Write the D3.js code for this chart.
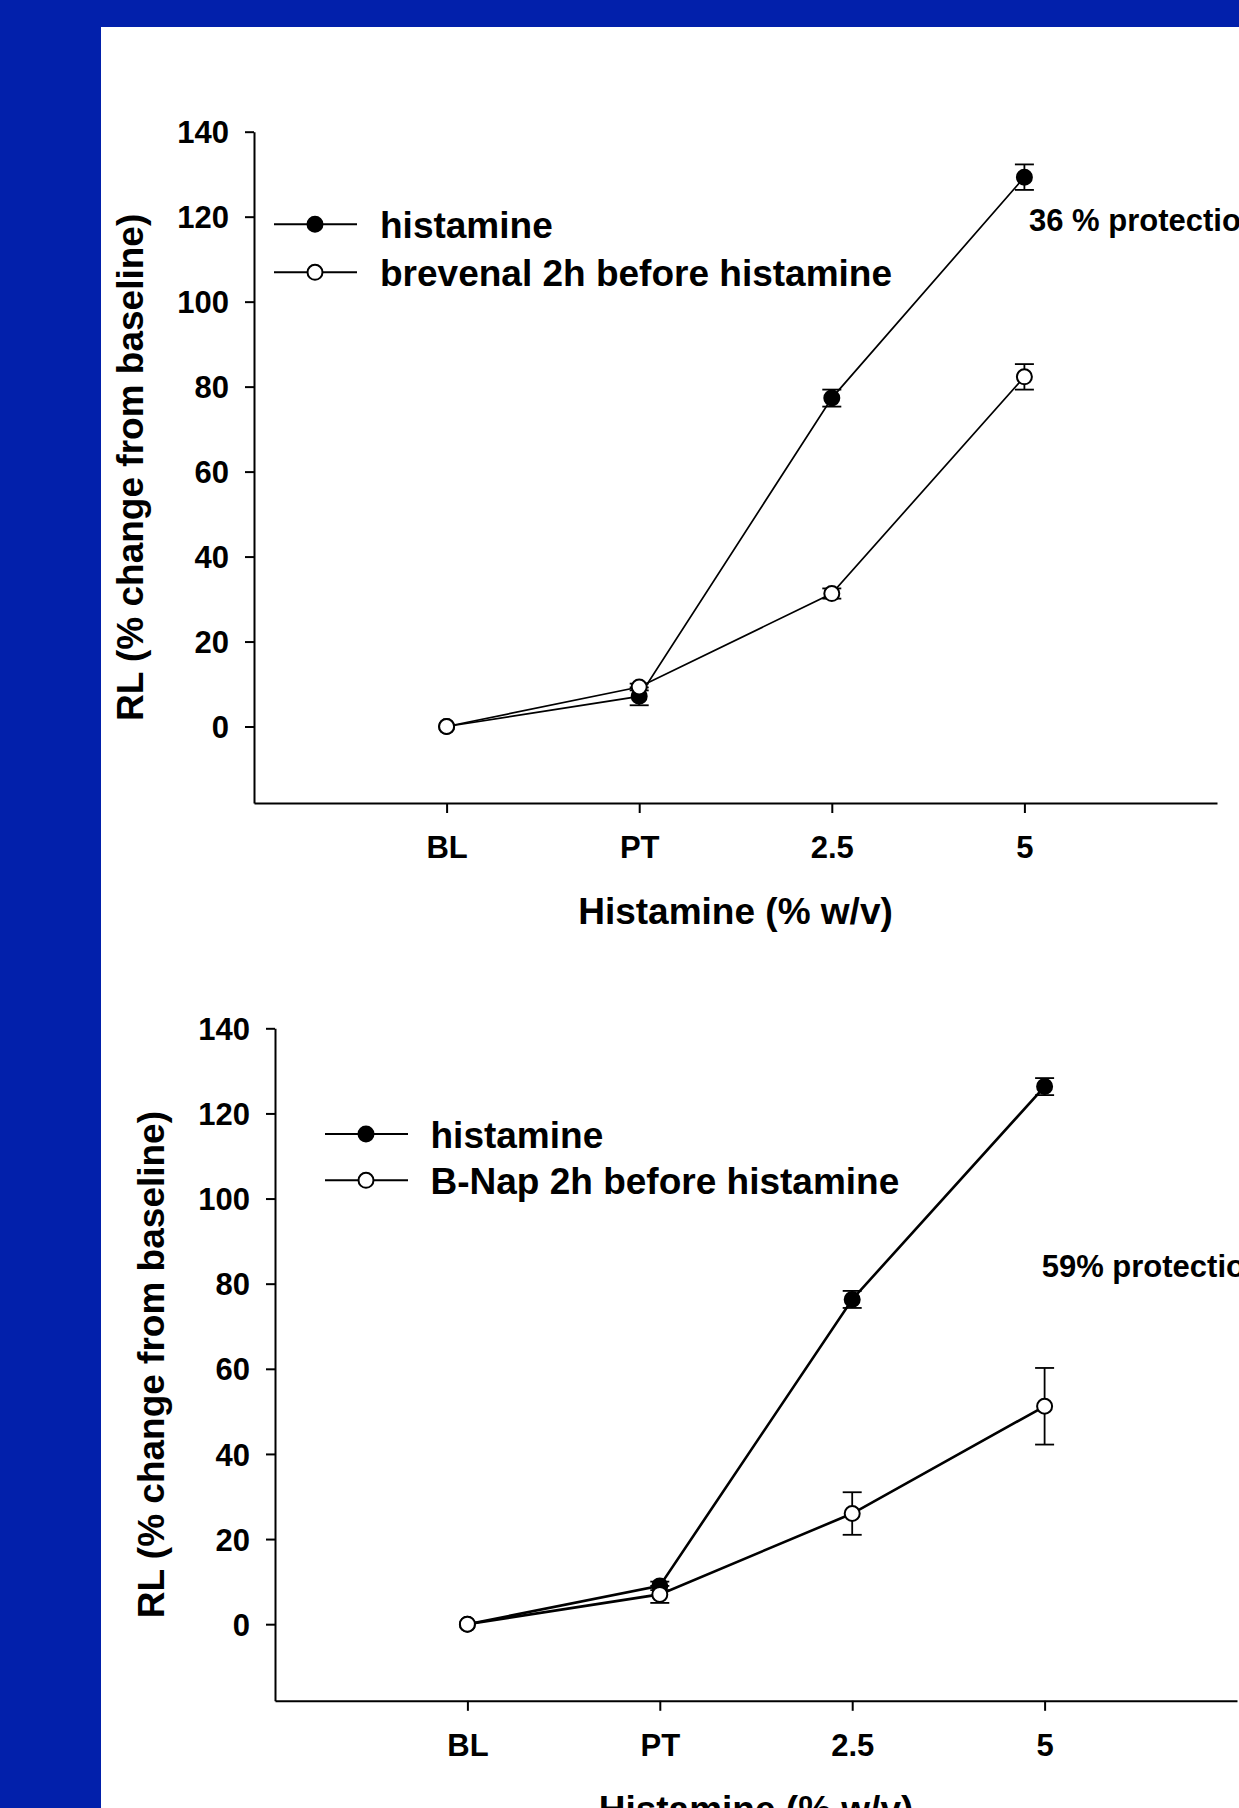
<!DOCTYPE html>
<html>
<head>
<meta charset="utf-8">
<script src="https://cdn.jsdelivr.net/npm/d3@7"></script>
<style>
  body { margin: 0; padding: 0; background: #0220ab; }
  svg text { font-family: "Liberation Sans", Arial, sans-serif; font-weight: bold; fill: #000; }
  .axis path, .axis line { stroke: #000; stroke-width: 2; }
</style>
</head>
<body>
<div id="chart"></div>
<script>
// categories on the x axis
const categories = ["BL", "PT", "2.5", "5"];
const yTickValues = [0, 20, 40, 60, 80, 100, 120, 140];

// top panel: histamine vs brevenal
const histTop = [0, 7.1, 77.3, 129.3];
const histTopErr = [0, 2.1, 2, 3];
const brevenal = [0, 9.3, 31.3, 82.3];
const brevenalErr = [0, 0.8, 1.2, 3];

// bottom panel: histamine vs B-Nap
const histBottom = [0, 9, 76.3, 126.3];
const histBottomErr = [0, 1, 2, 2];
const bnap = [0, 7, 26, 51.2];
const bnapErr = [0, 2, 5, 9];

const W = 1239, H = 1808;

const svg = d3.select("#chart").append("svg")
    .attr("width", W)
    .attr("height", H);

// blue frame + white slide area
svg.append("rect").attr("width", W).attr("height", H).attr("fill", "#0220ab");
svg.append("rect").attr("x", 101).attr("y", 27).attr("width", W - 101).attr("height", H - 27).attr("fill", "#fff");

function drawPanel(p) {
    let g = svg.append("g");

    let x = d3.scaleLinear().domain([-1, 4]).range([p.left, p.right]);
    let y = d3.scaleLinear().domain([-18, 140]).range([p.bottom, p.top]);

    // axes
    let yAxis = d3.axisLeft(y)
        .tickValues(yTickValues)
        .tickSize(9)
        .tickSizeOuter(0)
        .tickPadding(16);
    let xAxis = d3.axisBottom(x)
        .tickValues([0, 1, 2, 3])
        .tickFormat(i => categories[i])
        .tickSize(10)
        .tickSizeOuter(0)
        .tickPadding(23);

    let ya = g.append("g").attr("class", "axis")
        .attr("transform", "translate(" + p.left + ",0)")
        .call(yAxis);
    ya.selectAll("text").style("font-size", "31px").attr("dy", "0.36em");

    let xa = g.append("g").attr("class", "axis")
        .attr("transform", "translate(0," + p.bottom + ")")
        .call(xAxis);
    xa.selectAll("text").style("font-size", "31px");

    // axis titles
    g.append("text")
        .attr("x", (p.left + p.right) / 2)
        .attr("y", p.bottom + 121)
        .attr("text-anchor", "middle")
        .style("font-size", "37px")
        .text("Histamine (% w/v)");

    g.append("text")
        .attr("transform", "translate(" + (p.left - 111) + "," + ((p.top + p.bottom) / 2) + ") rotate(-90)")
        .attr("text-anchor", "middle")
        .style("font-size", "37px")
        .text("RL (% change from baseline)");

    // series
    let line = d3.line().x((d, i) => x(i)).y(d => y(d));
    p.series.forEach(s => {
        g.append("path")
            .datum(s.values)
            .attr("d", line)
            .attr("fill", "none")
            .attr("stroke", "#000")
            .attr("stroke-width", p.lineWidth);
    });

    p.series.forEach(s => {
        let eb = g.append("g");
        s.values.forEach((v, i) => {
            let e = s.err[i];
            if (!e) return;
            let cx = x(i);
            eb.append("line").attr("x1", cx).attr("x2", cx).attr("y1", y(v + e)).attr("y2", y(v - e));
            eb.append("line").attr("x1", cx - 9.5).attr("x2", cx + 9.5).attr("y1", y(v + e)).attr("y2", y(v + e));
            eb.append("line").attr("x1", cx - 9.5).attr("x2", cx + 9.5).attr("y1", y(v - e)).attr("y2", y(v - e));
        });
        eb.selectAll("line").attr("stroke", "#000").attr("stroke-width", 1.8);

        g.selectAll(null)
            .data(s.values)
            .enter()
            .append("circle")
            .attr("cx", (d, i) => x(i))
            .attr("cy", d => y(d))
            .attr("r", 7.5)
            .attr("fill", s.filled ? "#000" : "#fff")
            .attr("stroke", "#000")
            .attr("stroke-width", 2);
    });

    // legend
    p.series.forEach((s, k) => {
        let ly = p.legend.y[k];
        g.append("line")
            .attr("x1", p.legend.x1).attr("x2", p.legend.x2)
            .attr("y1", ly).attr("y2", ly)
            .attr("stroke", "#000").attr("stroke-width", 2);
        g.append("circle")
            .attr("cx", (p.legend.x1 + p.legend.x2) / 2 - 0.5)
            .attr("cy", ly)
            .attr("r", 7.5)
            .attr("fill", s.filled ? "#000" : "#fff")
            .attr("stroke", "#000").attr("stroke-width", 2);
        g.append("text")
            .attr("x", p.legend.tx)
            .attr("y", ly + 14)
            .style("font-size", "37px")
            .text(s.name);
    });

    // protection note
    g.append("text")
        .attr("x", p.note.x)
        .attr("y", p.note.y)
        .style("font-size", "31px")
        .text(p.note.text);
}

drawPanel({
    left: 254, right: 1217, top: 131.7, bottom: 803,
    lineWidth: 1.7,
    series: [
        { name: "histamine", values: histTop, err: histTopErr, filled: true },
        { name: "brevenal 2h before histamine", values: brevenal, err: brevenalErr, filled: false }
    ],
    legend: { x1: 274, x2: 357, tx: 380, y: [224.3, 272.3] },
    note: { x: 1029, y: 231, text: "36 % protection" }
});

drawPanel({
    left: 275, right: 1237, top: 1028.3, bottom: 1700.8,
    lineWidth: 2.6,
    series: [
        { name: "histamine", values: histBottom, err: histBottomErr, filled: true },
        { name: "B-Nap 2h before histamine", values: bnap, err: bnapErr, filled: false }
    ],
    legend: { x1: 325, x2: 408, tx: 430.5, y: [1134, 1180.3] },
    note: { x: 1041.7, y: 1277, text: "59% protection" }
});
</script>
</body>
</html>
